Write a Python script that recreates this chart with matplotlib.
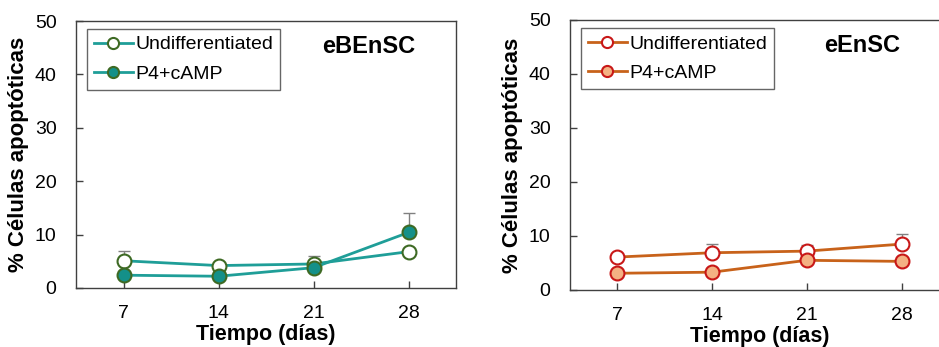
import matplotlib.pyplot as plt

plt.rcParams['font.family'] = ['Liberation Sans', 'DejaVu Sans']

dias = [7, 14, 21, 28]

# eBEnSC
ebe_undiff = [5.1, 4.2, 4.5, 6.8]
ebe_undiff_err = [1.9, 0.0, 1.5, 0.0]
ebe_p4 = [2.4, 2.2, 3.8, 10.4]
ebe_p4_err = [0.0, 0.0, 0.0, 3.6]

# eEnSC
een_undiff = [6.1, 6.9, 7.2, 8.5]
een_undiff_err = [0.0, 1.7, 1.1, 1.8]
een_p4 = [3.1, 3.3, 5.5, 5.3]
een_p4_err = [0.0, 0.0, 0.0, 0.0]

fig = plt.figure(figsize=(9.39, 3.47), dpi=100)
ax1 = fig.add_axes([76/939, 1-288/347, 380/939, 267/347])
ax2 = fig.add_axes([570/939, 1-290/347, 379/939, 270/347])

paneles = [
    (ax1, 'eBEnSC', ebe_undiff, ebe_undiff_err, ebe_p4, ebe_p4_err,
     '#1f9e98', '#3e6a24', '#149089'),
    (ax2, 'eEnSC', een_undiff, een_undiff_err, een_p4, een_p4_err,
     '#c8621a', '#c81818', '#f4b183'),
]

for ax, titulo, und, und_e, p4, p4_e, linea, borde, relleno in paneles:
    ax.errorbar(dias, und, yerr=[[0]*4, und_e], fmt='none', ecolor='#808080',
                elinewidth=1, capsize=4, capthick=1, zorder=1)
    ax.errorbar(dias, p4, yerr=[[0]*4, p4_e], fmt='none', ecolor='#808080',
                elinewidth=1, capsize=4, capthick=1, zorder=1)
    ax.plot(dias, und, '-o', color=linea, lw=2, ms=10, mfc='white',
            mec=borde, mew=1.5, label='Undifferentiated', zorder=3)
    ax.plot(dias, p4, '-o', color=linea, lw=2, ms=10, mfc=relleno,
            mec=borde, mew=1.5, label='P4+cAMP', zorder=3)
    ax.set_xlim(3.5, 31.5)
    ax.set_ylim(0, 50)
    ax.set_xticks(dias)
    ax.set_yticks([0, 10, 20, 30, 40, 50])
    ax.tick_params(direction='in', length=5, width=1, color='#404040',
                   labelsize=14, pad=12)
    ax.tick_params(axis='y', pad=14)
    for s in ax.spines.values():
        s.set_color('#404040')
        s.set_linewidth(1)
    ax.set_xlabel('Tiempo (días)', fontsize=15.5, fontweight='bold', labelpad=2)
    ax.set_ylabel('% Células apoptóticas', fontsize=16, fontweight='bold',
                  labelpad=4)
    ax.text(0.77, 0.905, titulo, transform=ax.transAxes, fontsize=17,
            fontweight='bold', ha='center', va='center')
    leg = ax.legend(loc='upper left', bbox_to_anchor=(0.029, 0.97),
                    fontsize=14, frameon=True, fancybox=False, markerscale=0.8,
                    handlelength=2.0, handletextpad=0.15, borderpad=0.35,
                    labelspacing=0.6, borderaxespad=0)
    leg.get_frame().set_edgecolor('#404040')
    leg.get_frame().set_linewidth(1)

fig.savefig('out.png', dpi=100)
